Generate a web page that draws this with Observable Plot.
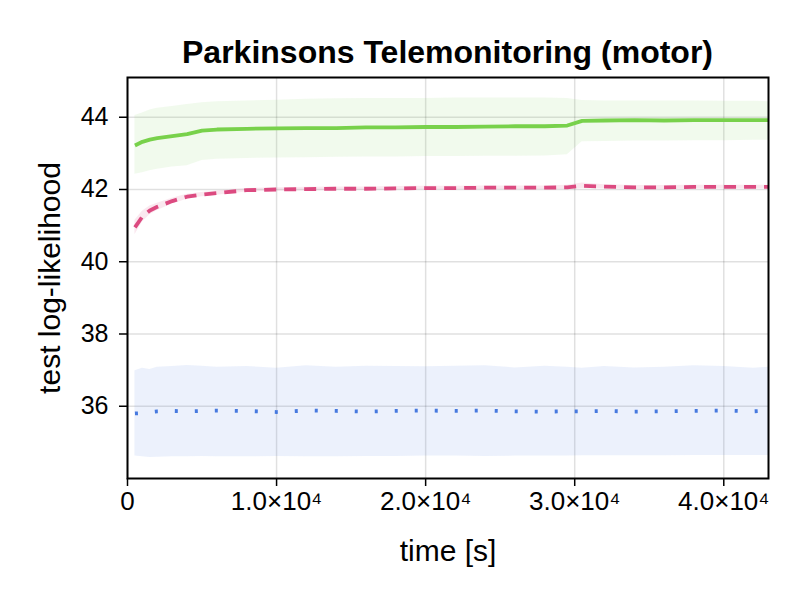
<!DOCTYPE html>
<html>
<head>
<meta charset="utf-8">
<script src="https://cdn.jsdelivr.net/npm/d3@7"></script>
<script src="https://cdn.jsdelivr.net/npm/@observablehq/plot@0.6"></script>
<style>
  html, body { margin: 0; padding: 0; background: #fff; }
  #wrap { width: 800px; height: 600px; position: relative; font-family: "Liberation Sans", Arial, sans-serif; }
  #title { height: 66px; box-sizing: border-box; padding-top: 36px; padding-left: 127px; width: 768px;
           text-align: center; font-weight: bold; font-size: 32px; line-height: 32px; color: #000; white-space: nowrap; }
</style>
</head>
<body>
<div id="wrap">
  <div id="title">Parkinsons Telemonitoring (motor)</div>
  <div id="chart"></div>
</div>
<script>
const times = [500, 1000, 1500, 2000, 3000, 4000, 5000, 6000, 8000, 10000, 12000, 14000, 16000, 18000, 20000, 22000, 24000, 26000, 28000, 29500, 30500, 32000, 34000, 36000, 38000, 40000, 42000, 43000];

const greenMean  = [43.22, 43.32, 43.38, 43.42, 43.48, 43.53, 43.63, 43.66, 43.68, 43.69, 43.70, 43.70, 43.72, 43.72, 43.73, 43.73, 43.74, 43.75, 43.75, 43.77, 43.90, 43.91, 43.92, 43.91, 43.92, 43.92, 43.92, 43.92];
const greenUpper = [44.05, 44.12, 44.20, 44.25, 44.30, 44.35, 44.40, 44.43, 44.45, 44.47, 44.50, 44.51, 44.52, 44.52, 44.52, 44.53, 44.53, 44.53, 44.53, 44.52, 44.46, 44.45, 44.45, 44.45, 44.45, 44.44, 44.44, 44.43];
const greenLower = [42.42, 42.46, 42.52, 42.56, 42.62, 42.66, 42.80, 42.84, 42.86, 42.87, 42.88, 42.89, 42.90, 42.90, 42.91, 42.91, 42.92, 42.92, 42.93, 42.96, 43.32, 43.33, 43.34, 43.34, 43.35, 43.35, 43.36, 43.36];

const pinkMean  = [40.95, 41.25, 41.42, 41.52, 41.68, 41.80, 41.86, 41.90, 41.98, 42.00, 42.01, 42.02, 42.02, 42.03, 42.04, 42.04, 42.05, 42.05, 42.05, 42.06, 42.10, 42.08, 42.06, 42.06, 42.07, 42.07, 42.07, 42.07];
const pinkUpper = [41.15, 41.40, 41.54, 41.62, 41.76, 41.87, 41.92, 41.96, 42.03, 42.05, 42.06, 42.07, 42.07, 42.08, 42.09, 42.09, 42.10, 42.10, 42.10, 42.12, 42.18, 42.13, 42.11, 42.11, 42.12, 42.12, 42.12, 42.12];
const pinkLower = [40.75, 41.10, 41.30, 41.42, 41.60, 41.73, 41.80, 41.84, 41.93, 41.95, 41.96, 41.97, 41.97, 41.98, 41.99, 41.99, 42.00, 42.00, 42.00, 42.01, 42.03, 42.03, 42.01, 42.01, 42.02, 42.02, 42.02, 42.02];

const blueMean  = [35.80, 35.81, 35.84, 35.86, 35.87, 35.86, 35.87, 35.88, 35.87, 35.84, 35.88, 35.87, 35.85, 35.87, 35.88, 35.87, 35.88, 35.86, 35.85, 35.86, 35.86, 35.87, 35.85, 35.86, 35.87, 35.88, 35.86, 35.88];
const blueUpper = [36.98, 37.05, 37.02, 37.08, 37.10, 37.13, 37.11, 37.08, 37.10, 37.05, 37.12, 37.08, 37.11, 37.10, 37.09, 37.11, 37.12, 37.06, 37.11, 37.08, 37.05, 37.10, 37.06, 37.08, 37.12, 37.10, 37.05, 37.08];
const blueLower = [34.62, 34.60, 34.58, 34.59, 34.60, 34.60, 34.61, 34.60, 34.60, 34.61, 34.60, 34.60, 34.61, 34.61, 34.62, 34.62, 34.61, 34.62, 34.62, 34.62, 34.63, 34.63, 34.63, 34.63, 34.64, 34.64, 34.64, 34.64];

const xTicks = [0, 10000, 20000, 30000, 40000];
const xTickLabels = ["0", "1.0×10⁴", "2.0×10⁴", "3.0×10⁴", "4.0×10⁴"];
const yTicks = [36, 38, 40, 42, 44];
const xLabel = "time [s]";
const yLabel = "test log-likelihood";

const series = [
  {name: "green", mean: greenMean, upper: greenUpper, lower: greenLower, color: "#78d14b", fillOpacity: 0.1, dash: null},
  {name: "pink",  mean: pinkMean,  upper: pinkUpper,  lower: pinkLower,  color: "#dc4a80", fillOpacity: 0.13, dash: "12,8"},
  {name: "blue",  mean: blueMean,  upper: blueUpper,  lower: blueLower,  color: "#4679df", fillOpacity: 0.1, dash: "3,17"}
];

const table = s => times.map((t, i) => ({t, m: s.mean[i], lo: s.lower[i], hi: s.upper[i]}));

const marks = [
  Plot.gridX(xTicks, {stroke: "#000", strokeOpacity: 0.12, strokeWidth: 1.5}),
  Plot.gridY(yTicks, {stroke: "#000", strokeOpacity: 0.12, strokeWidth: 1.5})
];
for (const s of series) {
  marks.push(Plot.areaY(table(s), {x: "t", y1: "lo", y2: "hi", fill: s.color, fillOpacity: s.fillOpacity, curve: "linear"}));
}
for (const s of series) {
  marks.push(Plot.lineY(table(s), {x: "t", y: "m", stroke: s.color, strokeWidth: 3.8, strokeDasharray: s.dash, strokeLinecap: "butt", curve: "linear"}));
}
marks.push(Plot.frame({stroke: "#000", strokeWidth: 2}));
marks.push(Plot.axisX(xTicks, {tickFormat: (d, i) => xTickLabels[i], tickSize: 8, tickPadding: 5, fontSize: 26,
  label: null, strokeWidth: 1.5}));
marks.push(Plot.axisY(yTicks, {tickFormat: d => String(d), tickSize: 8, tickPadding: 11, fontSize: 25,
  label: null, strokeWidth: 1.5}));
marks.push(Plot.text([xLabel], {text: d => d, frameAnchor: "bottom", dy: 82, fontSize: 30, fill: "#000"}));
marks.push(Plot.text([yLabel], {text: d => d, frameAnchor: "left", textAnchor: "middle", dx: -77, rotate: -90, fontSize: 30, fill: "#000"}));

const chart = Plot.plot({
  width: 800,
  height: 534,
  marginLeft: 127,
  marginRight: 32,
  marginTop: 11,
  marginBottom: 122,
  style: {fontFamily: "'Liberation Sans', Arial, sans-serif", fontSize: "24px", color: "#000", background: "#fff", overflow: "visible"},
  x: {domain: [0, 43000]},
  y: {domain: [34.0, 45.1]},
  marks
});
document.getElementById("chart").appendChild(chart);
</script>
</body>
</html>
